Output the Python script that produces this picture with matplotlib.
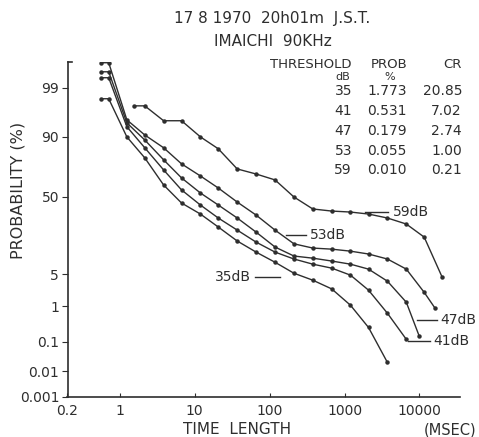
import numpy as np
import matplotlib
matplotlib.use("Agg")
from matplotlib import pyplot as plt
from statistics import NormalDist

# curve data (time in msec, probability in %)
t_59 = [1.53, 2.15, 3.84, 6.66, 11.9, 20.6, 36.9, 65.9, 118, 211, 377, 674, 1200, 2090, 3735, 6680, 11580, 20100]
p_59 = [97.4, 97.4, 94.8, 94.8, 90.0, 84.8, 72.5, 68.8, 64.2, 50.0, 39.9, 38.2, 37.4, 35.8, 32.7, 28.2, 19.6, 4.37]

t_53 = [0.56, 0.71, 1.24, 2.15, 3.84, 6.66, 11.9, 20.6, 36.9, 65.9, 118, 211, 377, 674, 1200, 2090, 3735, 6680, 11580, 16200]
p_53 = [99.79, 99.79, 95.0, 90.7, 85.3, 76.0, 67.3, 57.6, 45.7, 35.0, 24.0, 15.9, 13.8, 13.3, 12.4, 11.2, 9.3, 6.2, 2.1, 0.88]

t_47 = [0.56, 0.71, 1.24, 2.15, 3.84, 6.66, 11.9, 20.6, 36.9, 65.9, 118, 211, 377, 674, 1200, 2090, 3735, 6680, 9940]
p_47 = [99.62, 99.62, 94.3, 88.8, 78.6, 65.8, 53.4, 43.2, 32.7, 22.7, 14.3, 10.4, 9.6, 8.6, 7.6, 6.2, 3.63, 1.24, 0.15]

t_41 = [0.56, 0.71, 1.24, 2.15, 3.84, 6.66, 11.9, 20.6, 36.9, 65.9, 118, 211, 377, 674, 1200, 2090, 3735, 6680]
p_41 = [99.45, 99.45, 93.3, 85.3, 71.8, 56.0, 43.2, 32.7, 24.0, 16.8, 12.0, 9.3, 7.6, 6.46, 4.78, 2.35, 0.66, 0.12]

t_35 = [0.56, 0.71, 1.24, 2.15, 3.84, 6.66, 11.9, 20.6, 36.9, 65.9, 118, 211, 377, 674, 1200, 2090, 3735]
p_35 = [98.19, 98.19, 90.0, 79.8, 60.1, 44.9, 35.8, 26.1, 17.4, 12.0, 8.2, 5.2, 3.8, 2.5, 1.05, 0.27, 0.021]

curve_names = ["59dB", "53dB", "47dB", "41dB", "35dB"]

# the little table in the top right corner
thresholds = ["35", "41", "47", "53", "59"]
probs = ["1.773", "0.531", "0.179", "0.055", "0.010"]
crs = ["20.85", "7.02", "2.74", "1.00", "0.21"]

x_ticks = [0.2, 1, 10, 100, 1000, 10000]
x_ticklabels = ["0.2", "1", "10", "100", "1000", "10000"]
y_ticks = [0.001, 0.01, 0.1, 1, 5, 50, 90, 99]
y_ticklabels = ["0.001", "0.01", "0.1", "1", "5", "50", "90", "99"]

ink = '#2e2e2e'
font = {'size': 10, 'family': 'DejaVu Sans', 'color': ink}

# normal probability scale for the y axis
nd = NormalDist()
def prob_fwd(p):
	p = np.clip(np.asarray(p, dtype=float), 1e-7, 100 - 1e-7)
	return np.vectorize(lambda v: nd.inv_cdf(v / 100.), otypes=[float])(p)

def prob_inv(z):
	z = np.asarray(z, dtype=float)
	return np.vectorize(lambda v: nd.cdf(v) * 100., otypes=[float])(z)

W, H = 479, 437
fig = plt.figure(figsize=(W/100., H/100.), dpi=100)
fig.patch.set_facecolor('white')
ax = fig.add_axes([67.5/W, 1 - 397./H, (460 - 67.5)/W, (397 - 62.)/H])

ax.set_xscale('log')
ax.set_yscale('function', functions=(prob_fwd, prob_inv))
ax.set_xlim(0.2, 34800)
ax.set_ylim(0.001, 99.8)

for t, p in [(t_59, p_59), (t_53, p_53), (t_47, p_47), (t_41, p_41), (t_35, p_35)]:
	ax.plot(t, p, color=ink, lw=1.0, marker='o', ms=2.2, mfc=ink, mec=ink)

# curve labels with their short leader lines: (text x, line x0, line x1, y)
label_pos = [(4400, 1900, 3850, 37.4), (345, 165, 304, 20.8), (19000, 9350, 17200, 0.43),
	(15300, 7100, 13900, 0.105)]
for name, (tx, x0, x1, y) in zip(curve_names[:4], label_pos):
	ax.plot([x0, x1], [y, y], color=ink, lw=1.0)
	ax.text(tx, y, name, fontdict=font, ha='left', va='center')
ax.plot([64, 137], [4.37, 4.37], color=ink, lw=1.0)
ax.text(57, 4.37, curve_names[4], fontdict=font, ha='right', va='center')

ax.spines[['top', 'right']].set_visible(False)
for s in ['left', 'bottom']:
	ax.spines[s].set_color(ink)
	ax.spines[s].set_linewidth(1.2)
# small cap at the top of the y axis
ax.plot([0, 0.012], [1, 1], transform=ax.transAxes, color=ink, lw=1.2, clip_on=False)

ax.set_xticks(x_ticks)
ax.set_xticklabels(x_ticklabels)
ax.xaxis.set_minor_locator(matplotlib.ticker.NullLocator())
ax.set_yticks(y_ticks)
ax.set_yticklabels(y_ticklabels)
ax.yaxis.set_minor_locator(matplotlib.ticker.NullLocator())
ax.tick_params(axis='x', direction='in', length=3, color=ink, labelsize=10, labelcolor=ink, pad=5)
ax.tick_params(axis='y', direction='out', length=4, color=ink, labelsize=10, labelcolor=ink, pad=2)

fig.text(237./W, 1 - 430./H, "TIME  LENGTH", fontdict=dict(font, size=11), ha='center', va='center')
fig.text(450./W, 1 - 430./H, "(MSEC)", fontdict=dict(font, size=10.5), ha='center', va='center')
fig.text(18./W, 1 - 190./H, "PROBABILITY (%)", fontdict=dict(font, size=11.5), ha='center', va='center', rotation=90)

# title lines
fig.text(272./W, 1 - 18./H, "17 8 1970  20h01m  J.S.T.", fontdict=dict(font, size=11), ha='center', va='center')
fig.text(273./W, 1 - 42./H, "IMAICHI  90KHz", fontdict=dict(font, size=11), ha='center', va='center')

# table
head = dict(font, size=9.5)
fig.text(352./W, 1 - 65./H, "THRESHOLD", fontdict=head, ha='right', va='center')
fig.text(407./W, 1 - 65./H, "PROB", fontdict=head, ha='right', va='center')
fig.text(462./W, 1 - 65./H, "CR", fontdict=head, ha='right', va='center')
fig.text(350./W, 1 - 77./H, "dB", fontdict=dict(font, size=8), ha='right', va='center')
fig.text(390./W, 1 - 77./H, "%", fontdict=dict(font, size=8), ha='center', va='center')
row_y = [91, 111, 131, 151, 170]
for th, pr, cr, ry in zip(thresholds, probs, crs, row_y):
	fig.text(352./W, 1 - ry/H, th, fontdict=font, ha='right', va='center')
	fig.text(407./W, 1 - ry/H, pr, fontdict=font, ha='right', va='center')
	fig.text(462./W, 1 - ry/H, cr, fontdict=font, ha='right', va='center')

plt.savefig("out.png", dpi=100)
